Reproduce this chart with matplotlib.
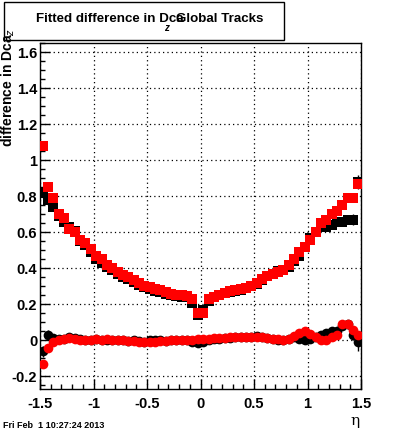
import numpy as np
import matplotlib.pyplot as plt
from matplotlib.patches import Rectangle
from matplotlib.ticker import MultipleLocator, FormatStrFormatter

plt.rcParams['font.family'] = ['Liberation Sans', 'DejaVu Sans']
plt.rcParams['axes.unicode_minus'] = False

# 60 eta bins from -1.5 to 1.5
eta = np.arange(-1.475, 1.5, 0.05)

# mean of the fit (upper band), black = first set, red = second set
mean_black = [0.82, 0.78, 0.74, 0.69, 0.66, 0.63, 0.61, 0.55, 0.53, 0.49,
              0.45, 0.43, 0.41, 0.39, 0.37, 0.355, 0.34, 0.325, 0.31, 0.295,
              0.285, 0.275, 0.27, 0.26, 0.25, 0.245, 0.24, 0.24, 0.21, 0.14,
              0.17, 0.22, 0.24, 0.255, 0.265, 0.27, 0.275, 0.28, 0.29, 0.30,
              0.315, 0.335, 0.36, 0.37, 0.385, 0.39, 0.41, 0.44, 0.47, 0.52,
              0.57, 0.60, 0.64, 0.63, 0.64, 0.66, 0.66, 0.67, 0.67, 0.88]
mean_red = [1.08, 0.85, 0.79, 0.70, 0.68, 0.62, 0.60, 0.56, 0.54, 0.51,
            0.47, 0.45, 0.42, 0.40, 0.38, 0.365, 0.35, 0.335, 0.32, 0.305,
            0.295, 0.285, 0.28, 0.27, 0.26, 0.255, 0.25, 0.245, 0.23, 0.15,
            0.15, 0.23, 0.24, 0.255, 0.265, 0.275, 0.28, 0.285, 0.29, 0.30,
            0.32, 0.34, 0.36, 0.37, 0.38, 0.39, 0.42, 0.45, 0.49, 0.52,
            0.56, 0.60, 0.65, 0.67, 0.70, 0.72, 0.75, 0.79, 0.79, 0.87]
err_mean = [0.03, 0.03, 0.02, 0.015, 0.01, 0.01, 0.01, 0.01, 0.01, 0.01,
            0.01, 0.01, 0.01, 0.01, 0.01, 0.01, 0.01, 0.01, 0.01, 0.01,
            0.01, 0.01, 0.01, 0.01, 0.01, 0.01, 0.01, 0.01, 0.01, 0.01,
            0.01, 0.01, 0.01, 0.01, 0.01, 0.01, 0.01, 0.01, 0.01, 0.01,
            0.01, 0.01, 0.01, 0.01, 0.01, 0.01, 0.01, 0.01, 0.01, 0.01,
            0.01, 0.01, 0.015, 0.015, 0.015, 0.02, 0.02, 0.025, 0.03, 0.04]

# offset of the fit (lower band)
off_black = [-0.06, 0.03, 0.015, 0.01, 0.01, 0.02, 0.015, 0.01, 0.005, 0.005,
             0.01, 0.005, 0.005, 0.005, 0.0, 0.0, -0.005, 0.0, -0.005, -0.01,
             0.0, 0.005, 0.0, -0.005, 0.0, 0.0, 0.005, 0.0, -0.01, -0.015,
             -0.01, 0.005, 0.01, 0.01, 0.015, 0.015, 0.02, 0.02, 0.02, 0.02,
             0.025, 0.02, 0.015, 0.01, 0.005, 0.0, 0.01, 0.02, 0.01, 0.005,
             0.01, 0.02, 0.03, 0.04, 0.05, 0.05, 0.08, 0.09, 0.03, -0.01]
off_red = [-0.13, -0.04, -0.01, 0.0, 0.01, 0.015, 0.01, 0.005, 0.0, 0.005,
           0.01, 0.005, 0.01, 0.005, 0.0, 0.0, -0.005, -0.005, -0.01, -0.01,
           -0.01, -0.01, -0.005, -0.005, 0.0, 0.0, 0.005, 0.005, 0.005, 0.01,
           0.01, 0.01, 0.015, 0.015, 0.015, 0.02, 0.02, 0.02, 0.02, 0.02,
           0.02, 0.02, 0.015, 0.01, 0.01, 0.005, 0.01, 0.025, 0.04, 0.05,
           0.035, 0.02, 0.005, 0.0, 0.02, 0.03, 0.09, 0.09, 0.06, 0.03]
err_off = [0.03, 0.03, 0.015, 0.01, 0.01, 0.01, 0.01, 0.01, 0.01, 0.01,
           0.01, 0.01, 0.01, 0.01, 0.01, 0.01, 0.01, 0.01, 0.01, 0.01,
           0.01, 0.01, 0.01, 0.01, 0.01, 0.01, 0.01, 0.01, 0.01, 0.01,
           0.01, 0.01, 0.01, 0.01, 0.01, 0.01, 0.01, 0.01, 0.01, 0.01,
           0.01, 0.01, 0.01, 0.01, 0.01, 0.01, 0.01, 0.01, 0.01, 0.01,
           0.01, 0.015, 0.015, 0.015, 0.02, 0.02, 0.02, 0.025, 0.03, 0.05]

fig = plt.figure(figsize=(4, 4.33), dpi=100)
ax = fig.add_axes([0.1, 0.1016, 0.8025, 0.799])

ax.errorbar(eta, mean_black, yerr=err_mean, fmt='s', color='black', ms=7,
            mew=0, elinewidth=1, capsize=0, zorder=3)
ax.errorbar(eta, mean_red, fmt='s', color='red', ms=7.5, mew=0, zorder=4)
ax.errorbar(eta, off_black, yerr=err_off, fmt='o', color='black', ms=7,
            mew=0, elinewidth=1, capsize=0, zorder=3)
ax.errorbar(eta, off_red, fmt='o', color='red', ms=7, mew=0, zorder=4)

ax.set_xlim(-1.5, 1.5)
ax.set_ylim(-0.27, 1.652)

ax.xaxis.set_major_locator(MultipleLocator(0.5))
ax.xaxis.set_minor_locator(MultipleLocator(0.1))
ax.yaxis.set_major_locator(MultipleLocator(0.2))
ax.yaxis.set_minor_locator(MultipleLocator(0.05))
ax.xaxis.set_major_formatter(FormatStrFormatter('%g'))
ax.yaxis.set_major_formatter(FormatStrFormatter('%g'))

ax.tick_params(which='both', direction='in', top=False, right=False)
ax.tick_params(which='major', length=7, width=1, labelsize=10.5)
ax.tick_params(axis='x', which='major', pad=6)
ax.tick_params(axis='y', which='major', pad=2)
ax.tick_params(which='minor', length=3.5, width=1)
for lab in ax.get_xticklabels() + ax.get_yticklabels():
    lab.set_fontweight('bold')

ax.grid(True, which='major', color='black', linestyle=(0, (1, 2.5)), linewidth=0.9)
ax.set_axisbelow(True)
for sp in ax.spines.values():
    sp.set_linewidth(1)

# y axis title, right-aligned to the top of the axis as in ROOT
fig.text(0.022, 0.935, 'difference in Dca$_z$', rotation=90, ha='center',
         va='top', fontsize=10, fontweight='bold')
# x axis title
fig.text(0.888, 0.012, 'η', ha='center', va='bottom', fontsize=11,
         family=['DejaVu Serif'])

# title box (ROOT draws the overlapping text)
fig.patches.append(Rectangle((4 / 400, 1 - 40 / 433), 280 / 400, 38 / 433,
                             transform=fig.transFigure, facecolor='white',
                             edgecolor='black', linewidth=1))
fig.text(36 / 400, 1 - 22 / 433, 'Fitted difference in Dca', ha='left',
         va='baseline', fontsize=9.6, fontweight='bold')
fig.text(176 / 400, 1 - 22 / 433, 'Global Tracks', ha='left',
         va='baseline', fontsize=9.6, fontweight='bold')
fig.text(166 / 400, 1 - 31 / 433, 'z', ha='center', va='baseline',
         fontsize=7, fontweight='bold', style='italic')

# date stamp
fig.text(3 / 400, 1 - 428 / 433, 'Fri Feb  1 10:27:24 2013', ha='left',
         va='baseline', fontsize=6.5, fontweight='bold')

fig.savefig('out.png', dpi=100, facecolor='white')
